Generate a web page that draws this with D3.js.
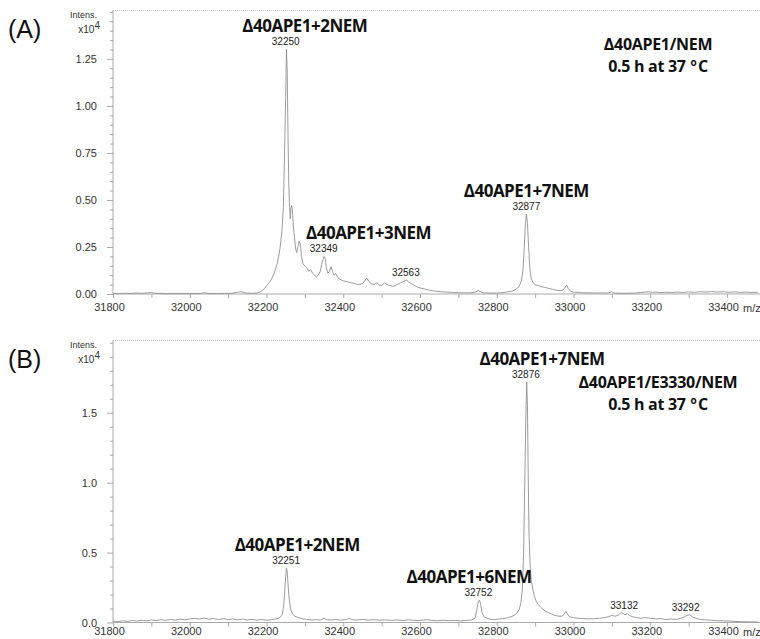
<!DOCTYPE html>
<html>
<head>
<meta charset="utf-8">
<script src="https://d3js.org/d3.v7.min.js"></script>
<style>
  body { margin: 0; background: #fff; }
  svg { display: block; }
  .tick text { font-family: "Liberation Sans", Arial, sans-serif; font-size: 11px; fill: #333; }
  .peak { font-family: "Liberation Sans", Arial, sans-serif; font-size: 10px; fill: #222; }
  .name { font-family: "Open Sans", sans-serif; font-weight: 700; font-size: 17px; letter-spacing: -0.5px; fill: #111; }
  .cond { font-family: "Open Sans", sans-serif; font-weight: 700; font-size: 16px; letter-spacing: -0.3px; fill: #111; }
</style>
</head>
<body>
<div id="chart"></div>
<script>
// Spectrum A: delta40APE1 / NEM, intensity x10^4
const mzA = [31800,31815,31830,31845,31860,31875,31890,31900,31910,31925,31940,31960,31980,32000,32020,32040,32050,32070,32090,32110,32125,32135,32145,32160,32175,32185,32195,32205,32212,32220,32228,32235,32240,32244,32247,32250,32252,32254,32256,32258,32260,32262,32264,32266,32268,32270,32273,32276,32279,32282,32285,32288,32291,32295,32300,32305,32310,32315,32320,32325,32330,32335,32340,32345,32350,32353,32356,32360,32364,32368,32372,32376,32380,32385,32390,32395,32400,32410,32420,32430,32440,32450,32456,32461,32466,32472,32480,32488,32494,32500,32508,32514,32522,32530,32540,32550,32560,32565,32570,32578,32586,32595,32605,32615,32625,32640,32655,32670,32685,32700,32715,32730,32745,32752,32758,32765,32780,32795,32810,32825,32840,32850,32858,32864,32868,32871,32874,32877,32880,32883,32886,32890,32895,32900,32908,32915,32925,32935,32945,32955,32965,32972,32978,32982,32986,32992,33000,33015,33030,33045,33060,33075,33090,33100,33105,33120,33140,33160,33175,33185,33195,33205,33215,33225,33240,33255,33270,33285,33300,33315,33330,33345,33360,33375,33390,33405,33420,33435,33450,33465,33480];
const intA = [0.003,0.002,0.004,0.003,0.005,0.004,0.006,0.008,0.004,0.003,0.002,0.003,0.002,0.003,0.002,0.006,0.003,0.002,0.003,0.004,0.010,0.012,0.006,0.004,0.005,0.012,0.030,0.055,0.075,0.11,0.16,0.24,0.33,0.46,0.75,1.05,1.30,1.18,0.85,0.60,0.46,0.40,0.46,0.47,0.43,0.36,0.30,0.24,0.22,0.25,0.28,0.27,0.20,0.16,0.15,0.14,0.12,0.13,0.11,0.10,0.09,0.10,0.12,0.17,0.20,0.19,0.14,0.11,0.12,0.145,0.12,0.10,0.11,0.09,0.08,0.075,0.07,0.065,0.06,0.055,0.05,0.055,0.07,0.085,0.07,0.055,0.05,0.06,0.048,0.045,0.06,0.05,0.045,0.04,0.05,0.06,0.07,0.074,0.065,0.055,0.045,0.035,0.03,0.025,0.02,0.015,0.012,0.01,0.008,0.007,0.006,0.006,0.01,0.018,0.012,0.006,0.005,0.005,0.006,0.01,0.015,0.025,0.04,0.07,0.12,0.22,0.35,0.425,0.38,0.25,0.14,0.08,0.06,0.05,0.045,0.04,0.035,0.03,0.025,0.02,0.018,0.02,0.035,0.048,0.03,0.015,0.01,0.008,0.006,0.006,0.005,0.006,0.005,0.012,0.005,0.004,0.004,0.005,0.008,0.01,0.012,0.009,0.01,0.007,0.009,0.008,0.01,0.008,0.011,0.009,0.012,0.01,0.013,0.01,0.012,0.009,0.011,0.008,0.01,0.008,0.009];

// Spectrum B: delta40APE1 / E3330 / NEM, intensity x10^4
const mzB = [31800,31812,31825,31838,31850,31862,31875,31888,31900,31912,31925,31938,31950,31962,31975,31988,32000,32012,32025,32038,32050,32062,32075,32088,32100,32112,32125,32138,32150,32162,32175,32188,32200,32212,32222,32232,32240,32244,32247,32250,32252,32254,32256,32258,32261,32264,32268,32274,32282,32292,32305,32318,32330,32340,32350,32356,32368,32380,32395,32408,32415,32422,32435,32450,32465,32480,32495,32510,32525,32540,32555,32570,32580,32595,32610,32620,32630,32645,32660,32675,32690,32705,32720,32735,32743,32748,32752,32755,32758,32762,32767,32775,32785,32795,32805,32815,32825,32835,32845,32852,32858,32863,32867,32870,32873,32876,32878,32880,32882,32884,32887,32890,32894,32898,32903,32908,32914,32920,32927,32935,32943,32952,32962,32970,32976,32980,32984,32990,33000,33012,33025,33040,33055,33068,33080,33090,33100,33110,33118,33124,33129,33134,33140,33146,33155,33165,33175,33185,33195,33205,33215,33225,33240,33255,33270,33285,33295,33303,33310,33320,33330,33345,33360,33375,33390,33405,33420,33435,33450,33465,33480];
const intB = [0.010,0.006,0.012,0.008,0.014,0.010,0.016,0.012,0.018,0.013,0.020,0.015,0.022,0.017,0.024,0.019,0.026,0.030,0.025,0.031,0.024,0.028,0.022,0.027,0.021,0.025,0.019,0.024,0.018,0.022,0.017,0.021,0.016,0.020,0.025,0.030,0.05,0.10,0.20,0.33,0.39,0.36,0.28,0.20,0.13,0.09,0.06,0.045,0.035,0.028,0.022,0.018,0.020,0.018,0.030,0.020,0.018,0.022,0.017,0.020,0.032,0.020,0.018,0.022,0.017,0.020,0.016,0.019,0.015,0.018,0.014,0.020,0.016,0.014,0.018,0.020,0.015,0.013,0.016,0.013,0.015,0.012,0.015,0.018,0.03,0.09,0.15,0.16,0.13,0.07,0.04,0.03,0.022,0.020,0.025,0.028,0.032,0.04,0.05,0.065,0.09,0.14,0.25,0.50,1.00,1.50,1.72,1.55,1.05,0.65,0.40,0.30,0.24,0.19,0.15,0.13,0.11,0.095,0.08,0.07,0.06,0.05,0.045,0.045,0.06,0.08,0.06,0.04,0.035,0.03,0.028,0.026,0.028,0.03,0.035,0.04,0.05,0.045,0.055,0.07,0.065,0.055,0.065,0.05,0.04,0.035,0.03,0.035,0.032,0.03,0.025,0.028,0.022,0.025,0.022,0.035,0.05,0.055,0.04,0.03,0.022,0.018,0.016,0.013,0.012,0.01,0.008,0.006,0.005,0.004,0.004];

// peak annotations: [m/z text, x position (m/z), intensity]
const peaksA = [["32250", 32250, 1.30], ["32349", 32349, 0.20], ["32563", 32563, 0.074], ["32877", 32877, 0.425]];
const peaksB = [["32251", 32251, 0.39], ["32752", 32752, 0.16], ["32876", 32876, 1.72], ["33132", 33132, 0.07], ["33292", 33292, 0.055]];
// species names: [label, m/z, intensity above which it sits]
const namesA = [["Δ40APE1+2NEM", 32300, 1.30], ["Δ40APE1+3NEM", 32466, 0.20], ["Δ40APE1+7NEM", 32877, 0.425]];
const namesB = [["Δ40APE1+2NEM", 32280, 0.39], ["Δ40APE1+6NEM", 32728, 0.16], ["Δ40APE1+7NEM", 32918, 1.72]];

const ticksA = [0, 0.25, 0.5, 0.75, 1.0, 1.25];
const ticksB = [0, 0.5, 1.0, 1.5];
const xTicks = [31800, 32000, 32200, 32400, 32600, 32800, 33000, 33200, 33400];

const W = 760, H = 639;
const svg = d3.select('#chart').append('svg').attr('width', W).attr('height', H);

const x = d3.scaleLinear().domain([31800, 33486]).range([113, 760]);

function panel(opts) {
  const y = d3.scaleLinear().domain([0, opts.ymax]).range([opts.bottom, opts.top]);
  const g = svg.append('g');

  // top frame (dotted)
  g.append('line')
    .attr('x1', 113).attr('x2', W).attr('y1', opts.top + 0.5).attr('y2', opts.top + 0.5)
    .style('stroke', '#c8c8c8').style('stroke-dasharray', '1,1');

  // minor y ticks
  const minor = d3.range(0, opts.ymax, opts.minorStep).filter(v => opts.ticks.every(t => Math.abs(t - v) > 1e-6));
  g.append('g').attr('transform', 'translate(113,0)')
    .call(d3.axisLeft(y).tickValues(minor).tickSize(3).tickFormat(''))
    .call(s => s.select('.domain').remove())
    .call(s => s.selectAll('line').style('stroke', '#aaa'));

  // y axis
  const ya = g.append('g').attr('transform', 'translate(113,0)')
    .call(d3.axisLeft(y).tickValues(opts.ticks).tickSize(6).tickPadding(10).tickSizeOuter(0).tickFormat(d3.format(opts.fmt)));
  ya.select('.domain').attr('d', `M0,${opts.bottom}V${opts.top}`).style('stroke', '#aaa');
  ya.selectAll('.tick line').style('stroke', '#aaa');

  // x axis
  const xa = g.append('g').attr('transform', `translate(0,${opts.bottom})`)
    .call(d3.axisBottom(x).tickValues(d3.range(31800, 33486, 100)).tickSize(4).tickFormat(''));
  xa.select('.domain').attr('d', `M113,0H${W}`).style('stroke', '#aaa');
  xa.selectAll('line').style('stroke', '#aaa');
  const xl = g.append('g').attr('transform', `translate(0,${opts.bottom})`)
    .call(d3.axisBottom(x).tickValues(xTicks).tickSize(0).tickPadding(opts.xPad).tickFormat(d3.format('d')));
  xl.select('.domain').remove();
  xl.selectAll('text').attr('dx', -4);
  g.append('text').attr('x', 743).attr('y', opts.bottom + opts.xPad + 8.5)
    .style('font-family', '"Liberation Sans", Arial, sans-serif').style('font-size', '11px').style('fill', '#333')
    .text('m/z');

  // axis title
  g.append('text').attr('x', 97).attr('y', opts.top + 7.5).attr('text-anchor', 'end')
    .style('font-family', '"Liberation Sans", Arial, sans-serif').style('font-size', '9px').style('fill', '#333')
    .text('Intens.');
  const t = g.append('text').attr('x', 100).attr('y', opts.top + 22.5).attr('text-anchor', 'end')
    .style('font-family', '"Liberation Sans", Arial, sans-serif').style('font-size', '10px').style('fill', '#333');
  t.append('tspan').text('x10');
  t.append('tspan').attr('dy', -4).text('4');

  // panel letter
  g.append('text').attr('x', 8).attr('y', opts.top + 28)
    .style('font-family', '"Liberation Sans", Arial, sans-serif').style('font-size', '25px').style('fill', '#111')
    .text(opts.letter);

  // spectrum trace
  const line = d3.line().x(d => x(d[0])).y(d => y(d[1]));
  g.append('path')
    .datum(opts.mz.map((m, i) => [m, opts.int[i]]))
    .attr('d', line)
    .style('fill', 'none').style('stroke', '#8a8a8a').style('stroke-width', 0.85);

  // peak m/z labels
  g.selectAll('.peak').data(opts.peaks).enter().append('text')
    .attr('class', 'peak').attr('text-anchor', 'middle')
    .attr('x', d => x(d[1]))
    .attr('y', d => y(d[2]) - 4)
    .text(d => d[0]);

  // species names
  g.selectAll('.name').data(opts.names).enter().append('text')
    .attr('class', 'name').attr('text-anchor', 'middle')
    .attr('x', d => x(d[1]))
    .attr('y', d => y(d[2]) - 17)
    .text(d => d[0]);

  // condition text, two lines in one text element
  const c = g.append('text').attr('class', 'cond').attr('text-anchor', 'middle')
    .attr('x', 658).attr('y', opts.top + opts.condY);
  c.append('tspan').attr('x', 658).text(opts.cond);
  c.append('tspan').attr('x', 658).attr('dy', 22).text('0.5 h at 37 ');
  c.append('tspan').attr('dy', -6).attr('dx', 1).style('font-size', '10px').text('o');
  c.append('tspan').attr('dy', 6).attr('dx', 1.5).text('C');
}

panel({ letter: '(A)', top: 10, bottom: 294, ymax: 1.51, ticks: ticksA, minorStep: 0.05, fmt: '.2f', xPad: 9,
  mz: mzA, int: intA, peaks: peaksA, names: namesA, cond: 'Δ40APE1/NEM', condY: 40 });
panel({ letter: '(B)', top: 340, bottom: 622.5, ymax: 2.02, ticks: ticksB, minorStep: 0.1, fmt: '.1f', xPad: 5,
  mz: mzB, int: intB, peaks: peaksB, names: namesB, cond: 'Δ40APE1/E3330/NEM', condY: 48 });
</script>
</body>
</html>
